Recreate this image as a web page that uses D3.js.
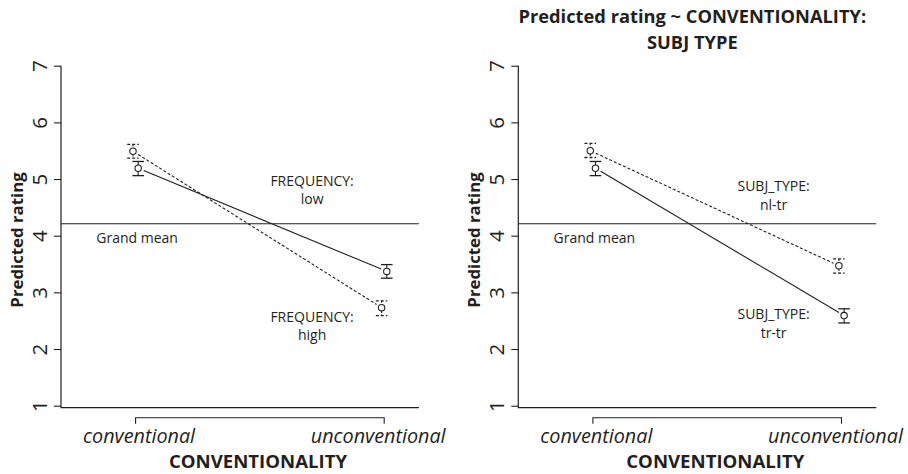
<!DOCTYPE html>
<html>
<head>
<meta charset="utf-8">
<script src="https://cdn.jsdelivr.net/npm/d3@7"></script>
<style>
  body { margin: 0; background: #fff; }
  svg text { font-family: "Open Sans", "Noto Sans", sans-serif; fill: #231f20; }
</style>
</head>
<body>
<div class="chart"></div>
<script>

// data
var levels = ["conventional", "unconventional"];
var yTicks = [1, 2, 3, 4, 5, 6, 7];
var grandMean = 4.21;

var freqLow = [5.19, 3.37];
var freqLowLo = [5.06, 3.25];
var freqLowHi = [5.31, 3.49];
var freqHigh = [5.49, 2.73];
var freqHighLo = [5.37, 2.59];
var freqHighHi = [5.61, 2.85];

var subjTrTr = [5.19, 2.59];
var subjTrTrLo = [5.06, 2.46];
var subjTrTrHi = [5.31, 2.71];
var subjNlTr = [5.50, 3.47];
var subjNlTrLo = [5.38, 3.34];
var subjNlTrHi = [5.63, 3.59];

var color = "#231f20";

var width = 908, height = 474;
var plotW = 358;

var svg = d3.select(".chart")
  .append("svg")
    .attr("width", width)
    .attr("height", height);

var y = d3.scaleLinear()
  .domain([1, 7])
  .range([405.7, 65.7]);

// x is index based (1 = conventional, 2 = unconventional)
var x = d3.scaleLinear()
  .domain([0.7, 2.14])
  .range([0, plotW]);

function makeSeries(name, vals, lo, hi, dashed) {
  return vals.map(function(v, i) {
    return { name: name, idx: i + 1, value: v, lo: lo[i], hi: hi[i], dashed: dashed };
  });
}

var panels = [
  {
    left: 61,
    title: null,
    series: [
      makeSeries("low", freqLow, freqLowLo, freqLowHi, false),
      makeSeries("high", freqHigh, freqHighLo, freqHighHi, true)
    ],
    labels: [
      { lines: ["FREQUENCY:", "low"], idx: 1.71, value: 4.98 },
      { lines: ["FREQUENCY:", "high"], idx: 1.71, value: 2.58 }
    ]
  },
  {
    left: 518.3,
    title: ["Predicted rating ~ CONVENTIONALITY:", "SUBJ TYPE"],
    series: [
      makeSeries("tr-tr", subjTrTr, subjTrTrLo, subjTrTrHi, false),
      makeSeries("nl-tr", subjNlTr, subjNlTrLo, subjNlTrHi, true)
    ],
    labels: [
      { lines: ["SUBJ_TYPE:", "nl-tr"], idx: 1.727, value: 4.88 },
      { lines: ["SUBJ_TYPE:", "tr-tr"], idx: 1.727, value: 2.62 }
    ]
  }
];

panels.forEach(function(p) {

  var g = svg.append("g")
    .attr("transform", "translate(" + p.left + ",0)");

  // left axis
  var yAxis = g.append("g")
    .call(d3.axisLeft(y).tickValues(yTicks).tickSize(7).tickSizeOuter(0).tickFormat(d3.format("d")));
  yAxis.select(".domain").remove();
  yAxis.selectAll(".tick line").attr("stroke", color).attr("stroke-width", 1.1);
  yAxis.selectAll(".tick text")
    .attr("x", null).attr("dy", null)
    .attr("transform", "translate(-22,0) rotate(-90)")
    .attr("text-anchor", "middle")
    .attr("dominant-baseline", "central")
    .style("font-size", "20.5px")
    .style("font-family", null)
    .attr("fill", null);

  // L shaped box
  g.append("path")
    .attr("d", "M0," + y(7) + "V" + (y(1) + 2) + "H" + plotW)
    .attr("fill", "none")
    .attr("stroke", color)
    .attr("stroke-width", 1.2);

  // x axis bracket
  var xb = 417.7;
  g.append("path")
    .attr("d", "M" + x(1) + "," + (xb + 6) + "V" + xb + "H" + x(2) + "V" + (xb + 6))
    .attr("fill", "none")
    .attr("stroke", color)
    .attr("stroke-width", 1.1);

  g.selectAll(".xlab")
    .data(levels)
    .enter()
    .append("text")
      .attr("class", "xlab")
      .attr("x", function(d, i) { return x(i + 1) + (i == 0 ? 3.5 : -6); })
      .attr("y", 442.7)
      .attr("text-anchor", "middle")
      .style("font-size", "19.8px")
      .style("font-style", "italic")
      .text(function(d) { return d; });

  g.append("text")
    .attr("x", 197)
    .attr("y", 468.3)
    .attr("text-anchor", "middle")
    .style("font-size", "18.6px")
    .style("font-weight", "bold")
    .text("CONVENTIONALITY");

  g.append("text")
    .attr("transform", "translate(-44.5,240) rotate(-90)")
    .attr("text-anchor", "middle")
    .attr("dominant-baseline", "central")
    .style("font-size", "16.8px")
    .style("font-weight", "bold")
    .text("Predicted rating");

  if (p.title) {
    g.selectAll(".title")
      .data(p.title)
      .enter()
      .append("text")
        .attr("class", "title")
        .attr("x", 174)
        .attr("y", function(d, i) { return 23 + i * 26; })
        .attr("text-anchor", "middle")
        .style("font-size", "18.3px")
        .style("font-weight", "bold")
        .text(function(d) { return d; });
  }

  // grand mean
  g.append("line")
    .attr("x1", 0).attr("x2", plotW)
    .attr("y1", y(grandMean)).attr("y2", y(grandMean))
    .attr("stroke", color)
    .attr("stroke-width", 1.1);

  g.append("text")
    .attr("x", x(1) + 1.5)
    .attr("y", y(grandMean) + 19)
    .attr("text-anchor", "middle")
    .style("font-size", "14px")
    .text("Grand mean");

  // series
  var dodge = 2.6;
  p.series.forEach(function(s) {
    var off = s[0].dashed ? -dodge : dodge;
    var dash = s[0].dashed ? "3,2" : null;
    var px = function(d) { return x(d.idx) + off; };

    // connecting line with gaps round the points (like type = "b")
    var a = s[0], b = s[1];
    var x1 = px(a), y1 = y(a.value), x2 = px(b), y2 = y(b.value);
    var len = Math.sqrt((x2 - x1) * (x2 - x1) + (y2 - y1) * (y2 - y1));
    var gap = 6;
    g.append("line")
      .attr("x1", x1 + (x2 - x1) * gap / len)
      .attr("y1", y1 + (y2 - y1) * gap / len)
      .attr("x2", x2 - (x2 - x1) * gap / len)
      .attr("y2", y2 - (y2 - y1) * gap / len)
      .attr("stroke", color)
      .attr("stroke-width", 1.1)
      .attr("stroke-dasharray", dash);

    var bars = g.selectAll(null)
      .data(s)
      .enter()
      .append("g");

    // error bar stems, broken around the circle
    bars.append("line")
      .attr("x1", px).attr("x2", px)
      .attr("y1", function(d) { return y(d.hi); })
      .attr("y2", function(d) { return y(d.value) - 3.3; })
      .attr("stroke", color)
      .attr("stroke-width", 1.1)
      .attr("stroke-dasharray", dash ? "2,1.5" : null);
    bars.append("line")
      .attr("x1", px).attr("x2", px)
      .attr("y1", function(d) { return y(d.value) + 3.3; })
      .attr("y2", function(d) { return y(d.lo); })
      .attr("stroke", color)
      .attr("stroke-width", 1.1)
      .attr("stroke-dasharray", dash ? "2,1.5" : null);

    ["hi", "lo"].forEach(function(k) {
      bars.append("line")
        .attr("x1", function(d) { return px(d) - 5.8; })
        .attr("x2", function(d) { return px(d) + 5.8; })
        .attr("y1", function(d) { return y(d[k]); })
        .attr("y2", function(d) { return y(d[k]); })
        .attr("stroke", color)
        .attr("stroke-width", 1.3)
        .attr("stroke-dasharray", dash ? "3,2" : null);
    });

    bars.append("circle")
      .attr("cx", px)
      .attr("cy", function(d) { return y(d.value); })
      .attr("r", 3.2)
      .attr("fill", "#fff")
      .attr("stroke", color)
      .attr("stroke-width", 1.1);
  });

  // series labels
  p.labels.forEach(function(l) {
    g.selectAll(null)
      .data(l.lines)
      .enter()
      .append("text")
        .attr("x", x(l.idx))
        .attr("y", function(d, i) { return y(l.value) + i * 18.7; })
        .attr("text-anchor", "middle")
        .attr("dominant-baseline", "central")
        .style("font-size", "14px")
        .text(function(d) { return d; });
  });

});

</script>
</body>
</html>
